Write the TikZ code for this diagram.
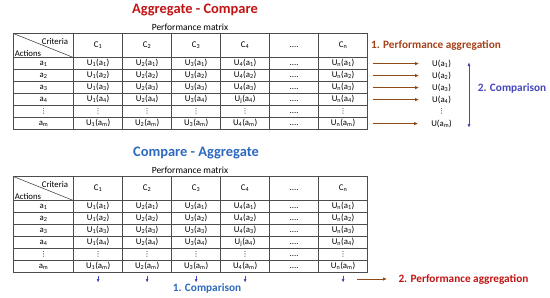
\documentclass[tikz,border=0pt]{standalone}
\usepackage{fontspec}
\setmainfont{Carlito}
\newfontfamily\dotfont{DejaVu Sans}
\usepackage{tikz}
\usetikzlibrary{matrix,positioning,calc,arrows.meta}
\newcommand{\lo}[1]{\textsubscript{#1}}
\newcommand{\ua}[2]{U\lo{#1}(a\lo{#2})}
\newcommand{\vd}{{\dotfont\fontsize{7}{7}\selectfont ⋮}}
\newcommand{\cellfont}{\fontsize{8.8}{10}\selectfont}
\definecolor{aggred}{RGB}{192,20,20}
\definecolor{aggbrown}{RGB}{165,65,25}
\definecolor{arrbrown}{RGB}{140,75,25}
\definecolor{cmpblue}{RGB}{45,105,190}
\definecolor{cmpviolet}{RGB}{70,70,190}
\tikzset{
perf/.style={matrix of nodes,nodes in empty cells,inner sep=0pt,
nodes={draw=black!70,line width=0.8bp,minimum width=49bp,minimum height=12bp,inner sep=0pt,outer sep=0pt,
text height=6bp,text depth=2bp,anchor=center,font=\cellfont},
column 1/.style={nodes={minimum width=60bp}},
row 1/.style={nodes={minimum height=24bp}},
row sep=-0.8bp,column sep=-0.8bp,ampersand replacement=\&,anchor=north west},
title/.style={font=\fontsize{14.5}{16}\selectfont\bfseries},
caption/.style={font=\fontsize{9.5}{11}\selectfont},
stage/.style={font=\fontsize{11.3}{13}\selectfont\bfseries},
valnode/.style={font=\cellfont,inner sep=1bp},
aggarrow/.style={-{Latex[length=4bp,width=3.5bp]},arrbrown,line width=0.9bp},
cmparrow/.style={{Latex[length=4bp,width=3bp]}-{Latex[length=4bp,width=3bp]},cmpviolet,line width=0.8bp},
downarrow/.style={-{Latex[length=3.5bp,width=3bp]},cmpviolet,line width=0.8bp}
}
\begin{document}
\begin{tikzpicture}[x=1bp,y=-1bp]
\useasboundingbox (0,0) rectangle (550,297);
\node[title,aggred] (ttl1) at (195,10) {Aggregate - Compare};
\node[caption] (pm1) at (190,27) {Performance matrix};
\matrix[perf] (t) at (13,33) {
 \& C\lo{1} \& C\lo{2} \& C\lo{3} \& C\lo{4} \& .... \& C\lo{n} \\
a\lo{1} \& \ua11 \& \ua21 \& \ua31 \& \ua41 \& .... \& \ua n1 \\
a\lo{2} \& \ua12 \& \ua22 \& \ua32 \& \ua42 \& .... \& \ua n2 \\
a\lo{3} \& \ua13 \& \ua23 \& \ua33 \& \ua43 \& .... \& \ua n3 \\
a\lo{4} \& \ua14 \& \ua24 \& \ua34 \& \ua j4 \& .... \& \ua n4 \\
\vd \& \vd \& \vd \& \vd \& \vd \& .... \& \vd \\
a\lo{m} \& \ua1m \& \ua2m \& \ua3m \& \ua4m \& .... \& \ua nm \\
};
\draw[black!70,line width=0.6bp] (t-1-1.north west) -- (t-1-1.south east);
\node[font=\cellfont,anchor=north east] (cr1) at ([xshift=-2bp,yshift=-1bp]t-1-1.north east) {Criteria};
\node[font=\cellfont,anchor=south west,inner sep=1bp] (ac1) at (t-1-1.south west) {Actions};
\node[stage,aggbrown] (agg1) at (436,45) {1. Performance aggregation};
\foreach \r/\l in {2/1,3/2,4/3,5/4,7/m}{
  \node[valnode] (u\l) at ($(t-\r-7.east)+(74,0)$) {U(a\lo{\l})};
  \draw[aggarrow,shorten <=5bp,shorten >=12bp] (t-\r-7.east) -- (u\l.west);
}
\node[valnode] (ud) at ($(t-6-7.east)+(74,0)$) {\vd};
\coordinate (ctop) at (469,62);
\coordinate (cbot) at (469,128);
\draw[cmparrow] (ctop) -- (cbot);
\node[stage,cmpviolet] (cmp2) at (512,88) {2. Comparison};

\node[title,cmpblue] (ttl2) at (196,153) {Compare - Aggregate};
\node[caption] (pm2) at (190,170) {Performance matrix};
\matrix[perf] (b) at (13,176) {
 \& C\lo{1} \& C\lo{2} \& C\lo{3} \& C\lo{4} \& .... \& C\lo{n} \\
a\lo{1} \& \ua11 \& \ua21 \& \ua31 \& \ua41 \& .... \& \ua n1 \\
a\lo{2} \& \ua12 \& \ua22 \& \ua32 \& \ua42 \& .... \& \ua n2 \\
a\lo{3} \& \ua13 \& \ua23 \& \ua33 \& \ua43 \& .... \& \ua n3 \\
a\lo{4} \& \ua14 \& \ua24 \& \ua34 \& \ua j4 \& .... \& \ua n4 \\
\vd \& \vd \& \vd \& \vd \& \vd \& .... \& \vd \\
a\lo{m} \& \ua1m \& \ua2m \& \ua3m \& \ua4m \& .... \& \ua nm \\
};
\draw[black!70,line width=0.6bp] (b-1-1.north west) -- (b-1-1.south east);
\node[font=\cellfont,anchor=north east] (cr2) at ([xshift=-2bp,yshift=-1bp]b-1-1.north east) {Criteria};
\node[font=\cellfont,anchor=south west,inner sep=1bp] (ac2) at (b-1-1.south west) {Actions};
\foreach \c in {2,3,4,5,7}
  \draw[downarrow,shorten <=3bp] (b-7-\c.south) -- ++(0,10);
\node[stage,cmpblue] (cmp1) at (207,288) {1. Comparison};
\node[stage,aggred,anchor=west] (agg2) at (395,279) {2. Performance aggregation};
\coordinate (aggstart) at (357,279);
\draw[aggarrow,shorten >=8bp] (aggstart) -- (agg2.west);
\end{tikzpicture}
\end{document}
